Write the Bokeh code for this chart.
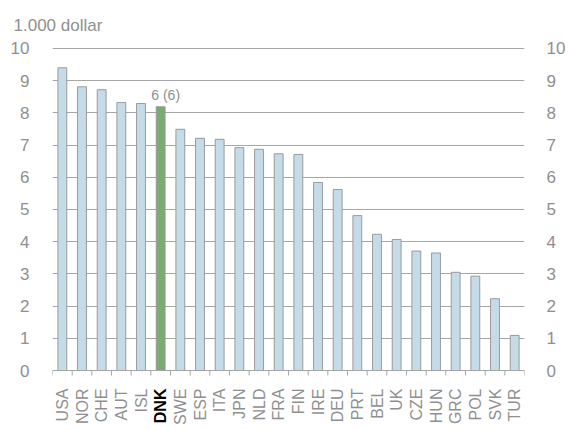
import math
from bokeh.plotting import figure
from bokeh.models import Range1d, LinearAxis, FixedTicker, ColumnDataSource, Span
from bokeh.core.properties import value
from bokeh.embed import file_html
from bokeh.resources import INLINE

countries = ["USA", "NOR", "CHE", "AUT", "ISL", "DNK", "SWE", "ESP", "ITA", "JPN", "NLD", "FRA",
             "FIN", "IRE", "DEU", "PRT", "BEL", "UK", "CZE", "HUN", "GRC", "POL", "SVK", "TUR"]
values = [9.40, 8.81, 8.72, 8.32, 8.29, 8.19, 7.49, 7.21, 7.18, 6.92, 6.87, 6.73,
          6.71, 5.84, 5.62, 4.81, 4.23, 4.07, 3.71, 3.65, 3.05, 2.93, 2.23, 1.09]
highlight = "DNK"
highlight_label = "6 (6)"
y_ticks = list(range(0, 11))
unit_label = "1.000 dollar"

FONT = "Liberation Sans"
GREY = "#8f8f8f"
BLUE = "#c5dce8"
GREEN = "#7aab6f"
OUTLINE = "#9a9a9a"
AXIS = "#a6a6a6"

n = len(countries)
centers = [i + 0.5 for i in range(n)]
colors = [GREEN if c == highlight else BLUE for c in countries]
src = ColumnDataSource(dict(x=centers, top=values, color=colors))

# frame extends below zero so the category labels are drawn inside it
Y_MIN, Y_MAX = -1.8, 10.03
PX_PER_UNIT = 32.2
p = figure(frame_width=472, frame_height=round((Y_MAX - Y_MIN) * PX_PER_UNIT),
           x_range=Range1d(0, n), y_range=Range1d(Y_MIN, Y_MAX),
           output_backend="svg", toolbar_location=None,
           x_axis_location=None, y_axis_location=None,
           min_border_left=52, min_border_right=42, min_border_top=47, min_border_bottom=0)
p.outline_line_color = None
p.background_fill_color = "white"

p.title.text = unit_label
p.title.text_font = FONT
p.title.text_font_size = "17px"
p.title.text_font_style = "normal"
p.title.text_color = GREY
p.title.align = "left"
p.title.offset = -39
p.title.standoff = 26

p.vbar(x="x", top="top", width=0.45, source=src, fill_color="color",
       line_color=OUTLINE, line_width=1)

# label above highlight bar
hi = countries.index(highlight)
p.text(x=[centers[hi]], y=[values[hi]], text=[highlight_label], x_offset=5, y_offset=-4,
       text_align="center", text_baseline="bottom", text_color=GREY,
       text_font=value(FONT), text_font_size="14px")

# y axes
for side in ("left", "right"):
    ax = LinearAxis(ticker=FixedTicker(ticks=y_ticks))
    ax.axis_line_color = None
    ax.major_tick_line_color = None
    ax.minor_tick_line_color = None
    ax.major_label_text_color = GREY
    ax.major_label_text_font = FONT
    ax.major_label_text_font_size = "17px"
    ax.major_label_standoff = 17 if side == "left" else 16
    p.add_layout(ax, side)

p.ygrid.ticker = FixedTicker(ticks=y_ticks)
p.ygrid.grid_line_color = AXIS
p.ygrid.grid_line_width = 1
p.xgrid.grid_line_color = None

# x axis line and boundary ticks
p.add_layout(Span(location=0, dimension="width", line_color=AXIS, line_width=1))
bounds = list(range(n + 1))
tick_len = 5 / PX_PER_UNIT
p.segment(x0=bounds, y0=[0] * len(bounds), x1=bounds, y1=[-tick_len] * len(bounds),
          line_color=AXIS, line_width=1)

# category labels
lab_src = ColumnDataSource(dict(
    x=centers, y=[0] * n, text=countries,
    color=["black" if c == highlight else GREY for c in countries],
    style=["bold" if c == highlight else "normal" for c in countries]))
p.text(x="x", y="y", text="text", source=lab_src, angle=math.pi / 2, y_offset=18,
       text_align="right", text_baseline="middle", text_color="color",
       text_font_style="style", text_font=value(FONT), text_font_size="16px")

open("out.html", "w").write(file_html(p, INLINE))
